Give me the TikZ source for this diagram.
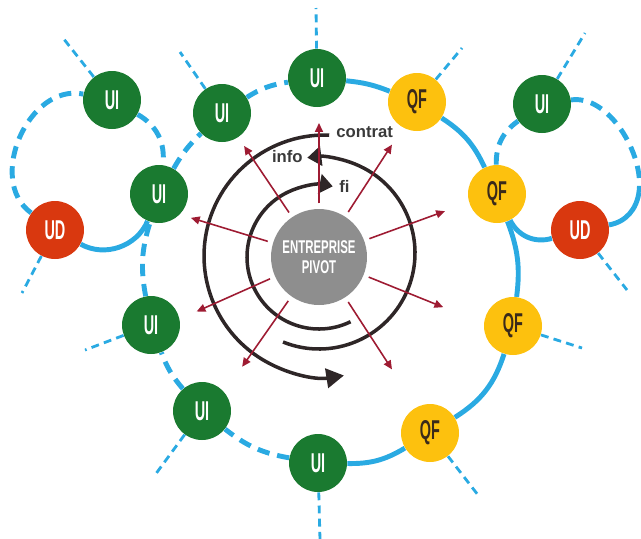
\documentclass[tikz,border=0pt]{standalone}
\usepackage{fontspec}
\setmainfont{Liberation Sans}
\newfontfamily\firmfont{Liberation Sans}[FakeStretch=0.53]
\newfontfamily\pivotfont{Liberation Sans}[FakeStretch=0.62]
\usetikzlibrary{arrows.meta}

\definecolor{uigreen}{HTML}{1A7A30}
\definecolor{qfyellow}{HTML}{FDC10E}
\definecolor{qftext}{HTML}{3A2A1A}
\definecolor{udred}{HTML}{D9380F}
\definecolor{netblue}{HTML}{2AAAE2}
\definecolor{pivotgray}{HTML}{8E8E8E}
\definecolor{spreadred}{HTML}{9E1B32}
\definecolor{arcdark}{HTML}{2E2627}
\definecolor{labelgray}{HTML}{3A3A3A}

\begin{document}
\begin{tikzpicture}[x=0.02cm, y=0.02cm,
  firm/.style={circle, minimum size=1.16cm, inner sep=0pt,
    font={\firmfont\bfseries\fontsize{15.5}{16}\selectfont}},
  ui/.style={firm, fill=uigreen, text=white},
  qf/.style={firm, fill=qfyellow, text=qftext},
  ud/.style={firm, fill=udred, text=white},
  ring/.style={line width=2.8pt, color=netblue},
  ringdash/.style={ring, dash pattern=on 7pt off 4.5pt},
  spoke/.style={line width=1.6pt, color=netblue, dash pattern=on 4.5pt off 3pt},
  loopline/.style={line width=2pt, color=arcdark},
  spread/.style={line width=0.9pt, color=spreadred, shorten <=3pt,
    -{Triangle[length=5pt,width=4.5pt]}},
  flowlabel/.style={font={\bfseries\fontsize{9.5}{10}\selectfont}, text=labelgray, inner sep=0pt}
]
\useasboundingbox (0,0) rectangle (641,-538);

% pivot firm
\node[circle, fill=pivotgray, minimum size=1.92cm, inner sep=0pt, text=white, align=center,
  font={\pivotfont\bfseries\fontsize{10.5}{11.6}\selectfont}] (pivot) at (319,-257) {ENTREPRISE\\PIVOT};

% firms of the network
\node[ui] (uiA) at (112,-100) {UI};
\node[ui] (uiB) at (222,-113) {UI};
\node[ui] (uiC) at (317,-78) {UI};
\node[qf] (qfA) at (417,-102) {QF};
\node[ui] (uiR) at (542,-104) {UI};
\node[ui] (uiL) at (159,-194) {UI};
\node[ud] (udL) at (55,-230) {UD};
\node[qf] (qfB) at (497,-194) {QF};
\node[ud] (udR) at (580,-230) {UD};
\node[ui] (uiD) at (151,-325) {UI};
\node[qf] (qfC) at (513,-326) {QF};
\node[ui] (uiE) at (202,-411) {UI};
\node[qf] (qfD) at (430,-433) {QF};
\node[ui] (uiF) at (318,-463) {UI};

% main ring
\draw[ringdash] (uiB) to[bend left=12] (uiC);
\draw[ring] (uiC) to[bend left=8] (qfA);
\draw[ring] (qfA) to[bend left=16] (qfB);
\draw[ring] (qfB) to[bend left=14] (qfC);
\draw[ring] (qfC) to[bend left=20] (qfD);
\draw[ring] (qfD) to[bend left=16] (uiF);
\draw[ringdash] (uiF) to[bend left=14] (uiE);
\draw[ringdash] (uiE) to[bend left=10] (uiD);
\draw[ringdash] (uiD) to[bend left=14] (uiL);
\draw[ringdash] (uiL) to[bend left=8] (uiB);

% left loop
\draw[ringdash] (udL) to[bend left=78, looseness=1.1] (uiA);
\draw[ringdash] (uiA) to[bend left=34] (uiL);
\draw[ring] (uiL) to[bend left=48] (udL);

% right loop
\coordinate (rloop) at (639,-192);
\draw[ringdash] (uiR) to[out=8, in=82, looseness=0.85] (rloop);
\draw[ring] (rloop) to[out=-98, in=10] (udR);
\draw[ring] (udR) to[bend left=40] (qfB);
\draw[ringdash] (qfB) to[bend left=28] (uiR);

% outgoing links
\coordinate (sA) at (63,-38);
\coordinate (sB) at (180,-52);
\coordinate (sC) at (316,-8);
\coordinate (sqA) at (462,-48);
\coordinate (sR) at (585,-33);
\coordinate (sudR) at (627,-290);
\coordinate (sudL) at (22,-293);
\coordinate (sD) at (85,-350);
\coordinate (sqC) at (582,-348);
\coordinate (sE) at (155,-475);
\coordinate (sqD) at (478,-495);
\coordinate (sF) at (320,-540);
\draw[spoke] (uiA) -- (sA);
\draw[spoke] (uiB) -- (sB);
\draw[spoke] (uiC) -- (sC);
\draw[spoke] (qfA) -- (sqA);
\draw[spoke] (uiR) -- (sR);
\draw[spoke] (udR) -- (sudR);
\draw[spoke] (udL) -- (sudL);
\draw[spoke] (uiD) -- (sD);
\draw[spoke] (qfC) -- (sqC);
\draw[spoke] (uiE) -- (sE);
\draw[spoke] (qfD) -- (sqD);
\draw[spoke] (uiF) -- (sF);

% cycles round the pivot
\draw[loopline, -{Triangle[length=7.5pt,width=11pt]}] (pivot.center) ++(-64:1.44cm)
  arc[start angle=-64, end angle=-281, radius=1.44cm];
\draw[loopline, -{Triangle[length=8pt,width=11pt]}] (pivot.center) ++(0,4) ++(248:1.92cm)
  arc[start angle=248, end angle=457, radius=1.92cm];
\draw[loopline, -{Triangle[length=10pt,width=11pt]}] (pivot.center) ++(6,1) ++(88:2.42cm)
  arc[start angle=88, end angle=279, radius=2.42cm];
\node[flowlabel, anchor=west] (contrat) at (336,-132) {contrat};
\node[flowlabel, anchor=east] (info) at (303,-157) {info};
\node[flowlabel, anchor=west] (fi) at (339,-186) {fi};

% spreading out from the pivot
\foreach \a in {20,57,90,124,163,204,235,303,338}
{
  \coordinate (tip\a) at ([shift={(\a:2.68cm)}]pivot.center);
  \draw[spread] (pivot.\a) -- (tip\a);
}

\end{tikzpicture}
\end{document}
